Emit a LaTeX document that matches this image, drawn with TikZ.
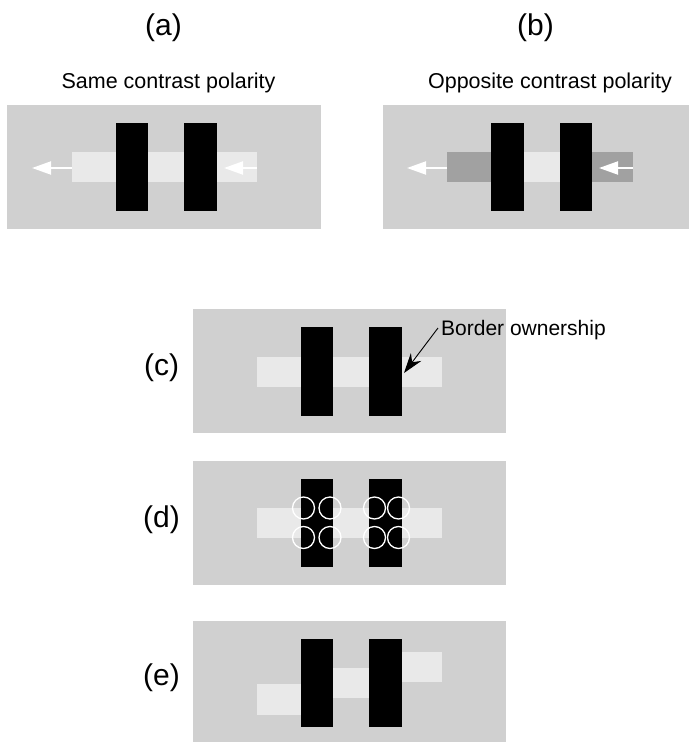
\documentclass[tikz,border=0pt]{standalone}
\usepackage{fontspec}
\setmainfont{Liberation Sans}
\usetikzlibrary{arrows.meta}
\definecolor{bggray}{gray}{0.816}
\definecolor{lightbar}{gray}{0.914}
\definecolor{darkbar}{gray}{0.63}
\tikzset{
  panel/.style={fill=bggray},
  strip/.style={fill=lightbar},
  darkstrip/.style={fill=darkbar},
  blackbar/.style={fill=black},
  motion/.style={draw=white, line width=2pt, -{Triangle[length=19pt,width=13pt]}},
  rf/.style={draw=white, line width=1.3pt},
  caption/.style={font=\fontsize{21.5}{26}\selectfont, anchor=base},
  tag/.style={font=\fontsize{30}{36}\selectfont, anchor=base},
  pointer/.style={draw=black, line width=0.9pt, -{Stealth[length=20pt,width=13pt]}}
}
\begin{document}
\begin{tikzpicture}[x=1pt, y=-1pt]
\useasboundingbox (0,0) rectangle (689,742);

% ---------- (a) same contrast polarity ----------
\node[tag] (ta) at (163.5,35) {(a)};
\node[caption] (ca) at (168.5,88) {Same contrast polarity};
\path[panel] (7,105) rectangle (321,229);
\path[strip] (72,152) rectangle (257,182);
\path[blackbar] (116,123) rectangle (148,211);
\path[blackbar] (184,123) rectangle (217,211);
\coordinate (aL0) at (72,168);  \coordinate (aL1) at (32,168);
\coordinate (aR0) at (257,168); \coordinate (aR1) at (224,168);
\draw[motion] (aL0) -- (aL1);
\draw[motion] (aR0) -- (aR1);

% ---------- (b) opposite contrast polarity ----------
\node[tag] (tb) at (535.5,35) {(b)};
\node[caption] (cb) at (550,88) {Opposite contrast polarity};
\path[panel] (383,105) rectangle (689,229);
\path[darkstrip] (447,152) rectangle (633,182);
\path[strip] (500,152) rectangle (580,182);
\path[blackbar] (491,123) rectangle (524,211);
\path[blackbar] (560,123) rectangle (592,211);
\coordinate (bL0) at (447,168); \coordinate (bL1) at (407,168);
\coordinate (bR0) at (633,168); \coordinate (bR1) at (599,168);
\draw[motion] (bL0) -- (bL1);
\draw[motion] (bR0) -- (bR1);

% ---------- (c) border ownership ----------
\node[tag] (tc) at (161.5,375) {(c)};
\path[panel] (193,309) rectangle (506,433);
\path[strip] (257,357) rectangle (442,387);
\path[blackbar] (301,327) rectangle (333,416);
\path[blackbar] (369,327) rectangle (402,416);
\node[anchor=base west, font=\fontsize{21}{25}\selectfont, inner sep=0pt] (bo) at (441,335) {Border ownership};
\coordinate (bo0) at (438,328);
\coordinate (bo1) at (404,373);
\draw[pointer] (bo0) -- (bo1);

% ---------- (d) receptive fields on the edges ----------
\node[tag] (td) at (161.5,527) {(d)};
\path[panel] (193,461) rectangle (506,585);
\path[strip] (257,508) rectangle (442,538);
\path[blackbar] (301,479) rectangle (333,567);
\path[blackbar] (369,479) rectangle (402,567);
\foreach \cx in {303.5,330,374.5,398.5}
  \foreach \cy in {508,537.5}
    \draw[rf] (\cx,\cy) circle (11);

% ---------- (e) staggered strips ----------
\node[tag] (te) at (161.5,685) {(e)};
\path[panel] (193,621) rectangle (506,742);
\path[strip] (257,684) rectangle (301,715);
\path[strip] (333,668) rectangle (369,698);
\path[strip] (402,652) rectangle (442,682);
\path[blackbar] (301,639) rectangle (333,727);
\path[blackbar] (369,639) rectangle (402,727);
\end{tikzpicture}
\end{document}
